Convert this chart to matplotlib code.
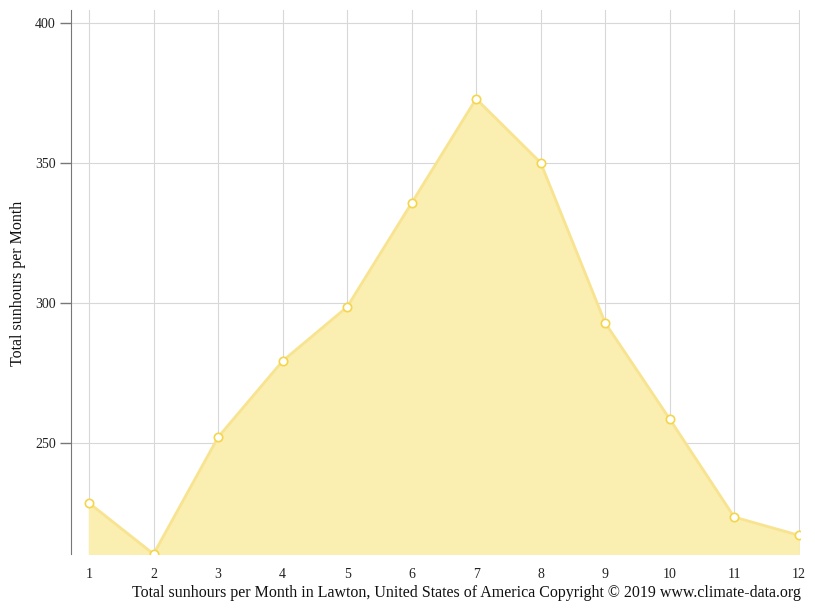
import matplotlib
matplotlib.use("Agg")
from matplotlib import pyplot as plt

months = list(range(1, 13))
sunhours = [228.6, 210.4, 252.1, 279.3, 298.6, 335.7, 372.9, 350.1, 292.9, 258.6, 223.6, 217.1]
yticks = [250, 300, 350, 400]

plt.rcParams['font.family'] = ['Liberation Serif', 'DejaVu Serif']

fig = plt.figure(figsize=(8.15, 6.11), dpi=100)
ax = fig.add_axes([71 / 815, 1 - 554 / 611, (800 - 71) / 815, (554 - 10) / 611])

ax.fill_between(months, sunhours, min(sunhours), color='#faeeb0', zorder=1)
ax.plot(months, sunhours, color='#f8e490', lw=2, zorder=2)
ax.plot(months, sunhours, 'o', ms=6, mfc='white', mec='#f5d54a', mew=1.2, zorder=3)

ax.set_xlim(0.72, 12.02)
ax.set_ylim(min(sunhours), 404.6)
ax.set_xticks(months)
ax.set_yticks(yticks)
ax.grid(True, color='#d8d8d8', lw=0.8, zorder=0)
ax.set_axisbelow(True)

for s in ['top', 'right', 'bottom']:
    ax.spines[s].set_visible(False)
ax.spines['left'].set_color('#777777')
ax.tick_params(axis='x', length=0, pad=10, labelsize=10, colors='#222222')
ax.tick_params(axis='y', length=8, width=1, color='#777777', labelsize=10, colors='#222222', pad=3)

fig.text(18 / 815, 1 - 283 / 611, 'Total sunhours per Month', rotation=90,
         ha='center', va='center', fontsize=11.5, color='#111111')
fig.text(801 / 815, 1 - 593 / 611,
         'Total sunhours per Month in Lawton, United States of America Copyright © 2019 www.climate-data.org',
         ha='right', va='center', fontsize=11.5, color='#111111')

fig.savefig('out.png', dpi=100)
